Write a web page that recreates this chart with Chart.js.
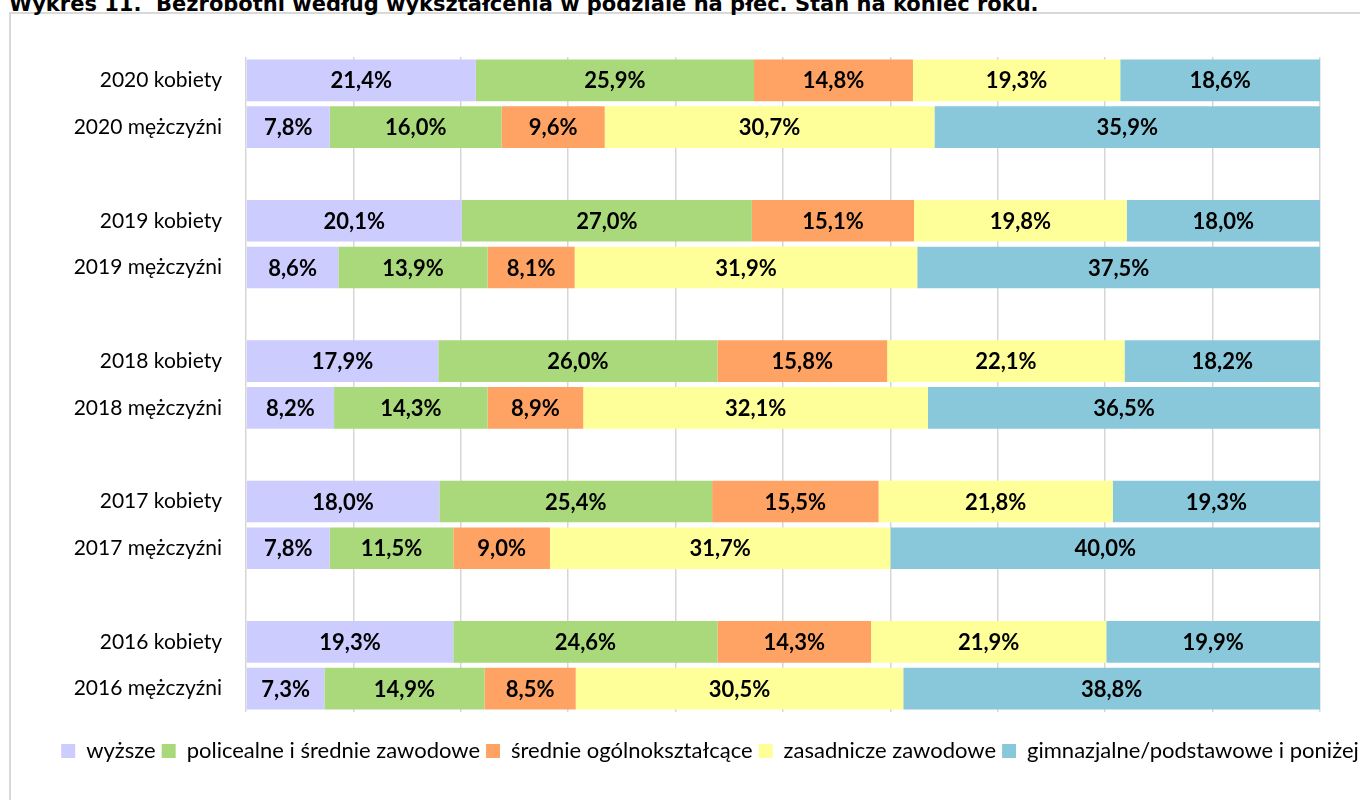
<html>
<head>
	<meta charset="utf-8">
	<title>Bezrobotni według wykształcenia w podziale na płeć</title>
	<script src="https://cdn.jsdelivr.net/npm/chart.js@4.4.0/dist/chart.umd.min.js"></script>
	<style>
		body {
			margin: 0;
			width: 1360px;
			height: 800px;
			overflow: hidden;
			position: relative;
			background: #fff;
		}

		#title {
			position: absolute;
			left: 9px;
			top: -6px;
			font: bold 21px "DejaVu Sans", Verdana, sans-serif;
			line-height: 21px;
			white-space: nowrap;
			color: #000;
		}

		#frame {
			position: absolute;
			left: 9px;
			top: 12px;
			width: 1400px;
			height: 850px;
			border: 2px solid #d9d9d9;
		}

		#wrap {
			position: absolute;
			left: 0;
			top: 0;
			width: 1400px;
			height: 800px;
		}
	</style>
</head>

<body>
	<div id="frame"></div>
	<div id="title">Wykres 11.&nbsp; Bezrobotni według wykształcenia w podziale na płeć. Stan na koniec roku.</div>
	<div id="wrap"><canvas id="canvas"></canvas></div>
	<script>
		// rows from top to bottom, '' = empty spacer row
		const categories = [
			'2020 kobiety', '2020 mężczyźni', '',
			'2019 kobiety', '2019 mężczyźni', '',
			'2018 kobiety', '2018 mężczyźni', '',
			'2017 kobiety', '2017 mężczyźni', '',
			'2016 kobiety', '2016 mężczyźni',
		];
		const seriesNames = [
			'wyższe',
			'policealne i średnie zawodowe',
			'średnie ogólnokształcące',
			'zasadnicze zawodowe',
			'gimnazjalne/podstawowe i poniżej',
		];
		const wyzsze = [21.4, 7.8, null, 20.1, 8.6, null, 17.9, 8.2, null, 18.0, 7.8, null, 19.3, 7.3];
		const policealne = [25.9, 16.0, null, 27.0, 13.9, null, 26.0, 14.3, null, 25.4, 11.5, null, 24.6, 14.9];
		const srednieOgolne = [14.8, 9.6, null, 15.1, 8.1, null, 15.8, 8.9, null, 15.5, 9.0, null, 14.3, 8.5];
		const zasadnicze = [19.3, 30.7, null, 19.8, 31.9, null, 22.1, 32.1, null, 21.8, 31.7, null, 21.9, 30.5];
		const gimnazjalne = [18.6, 35.9, null, 18.0, 37.5, null, 18.2, 36.5, null, 19.3, 40.0, null, 19.9, 38.8];

		const colors = ['#CCCCFF', '#A9D97A', '#FFA364', '#FFFF99', '#88C8DA'];
		const seriesData = [wyzsze, policealne, srednieOgolne, zasadnicze, gimnazjalne];

		const font = 'Lato';

		// write the value in the middle of every bar segment
		const barLabels = {
			id: 'barLabels',
			afterDatasetsDraw(chart) {
				const c = chart.ctx;
				c.save();
				c.font = `bold 22px ${font}`;
				c.fillStyle = '#000';
				c.textAlign = 'center';
				c.textBaseline = 'middle';
				chart.data.datasets.forEach((ds, i) => {
					const meta = chart.getDatasetMeta(i);
					meta.data.forEach((bar, j) => {
						const v = ds.data[j];
						if (v === null) return;
						const { x, y, base } = bar.getProps(['x', 'y', 'base'], true);
						c.fillText(v.toFixed(1).replace('.', ',') + '%', (x + base) / 2, y + 1);
					});
				});
				c.restore();
			}
		};

		new Chart(document.getElementById('canvas'), {
			type: 'bar',
			data: {
				labels: categories,
				datasets: seriesNames.map((name, i) => ({
					label: name,
					data: seriesData[i],
					backgroundColor: colors[i],
					borderWidth: 0,
					categoryPercentage: 1,
					barPercentage: 0.89,
				})),
			},
			options: {
				indexAxis: 'y',
				responsive: true,
				maintainAspectRatio: false,
				animation: false,
				layout: {
					padding: { left: 20, right: 0, top: 57, bottom: 28 },
				},
				scales: {
					x: {
						stacked: true,
						min: 0,
						max: 100,
						z: 1,
						ticks: { display: false, stepSize: 10 },
						grid: { color: 'rgba(120,120,120,0.3)', lineWidth: 1.5, drawTicks: false },
						border: { display: false },
						afterFit: (scale) => { scale.height = 22; },
					},
					y: {
						stacked: true,
						grid: { display: false },
						border: { display: false },
						ticks: { color: '#000', font: { family: font, size: 21 }, padding: 16 },
						afterFit: (scale) => { scale.width = 226; },
					},
					// empty axis on the right, keeps the plot narrower than the legend
					y2: {
						position: 'right',
						grid: { display: false },
						border: { display: false },
						ticks: { display: false },
						afterFit: (scale) => { scale.width = 80; },
					},
				},
				plugins: {
					legend: {
						position: 'bottom',
						labels: {
							color: '#000',
							font: { family: font, size: 22 },
							boxWidth: 14,
							boxHeight: 14,
							padding: 6,
						},
					},
					tooltip: { enabled: false },
				},
			},
			plugins: [barLabels],
		});
	</script>
</body>

</html>
